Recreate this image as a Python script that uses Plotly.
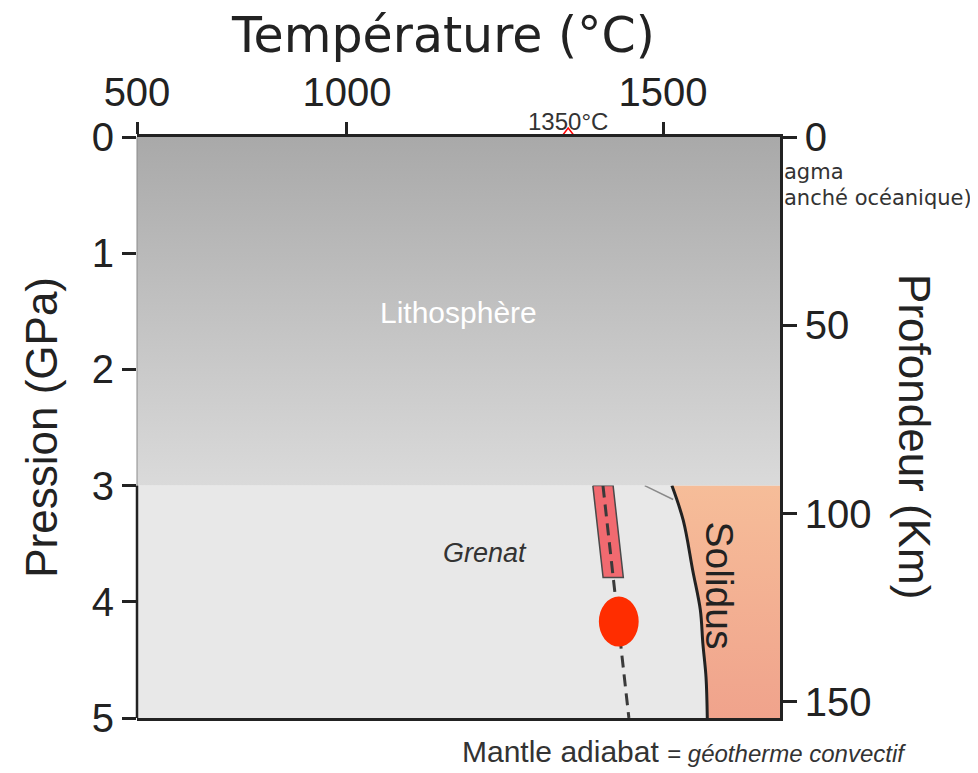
import plotly.graph_objects as go

# axes
temp_range = [668, 1685]          # linear part of the temperature axis (°C)
temp_tick_vals = [668, 1000, 1500]
temp_tick_text = ["500", "1000", "1500"]
pressure_range = [0, 5]           # GPa
pressure_ticks = [0, 1, 2, 3, 4, 5]
depth_max = 154.3                 # km at 5 GPa
depth_ticks = [0, 50, 100, 150]

# regions
litho_P = [0, 3]                  # lithosphere, GPa
solidus_T = [1514, 1532, 1547, 1559, 1563, 1568, 1570]
solidus_P = [3.0, 3.30, 3.73, 4.07, 4.36, 4.65, 5.0]

# mantle adiabat
adiabat_T = [1405, 1446]
adiabat_P = [3.0, 5.0]
bar_P = [3.0, 3.79]               # red segment along the adiabat
potential_T = [1350]              # 1350°C marker at the top
dot_T, dot_P = 1430, 4.17
leader_T = [1471, 1516]
leader_P = [3.0, 3.12]

FONT = "Liberation Sans, Arial, sans-serif"
WIDE = "DejaVu Sans, sans-serif"
DARK = "#222222"

t0, t1 = temp_range
fig = go.Figure()

# lower mantle background
fig.add_trace(go.Scatter(x=[t0, t1, t1, t0], y=[litho_P[1], litho_P[1], 5, 5], fill="toself",
                         fillcolor="#e8e8e8", line=dict(width=0), mode="lines",
                         hoverinfo="skip", showlegend=False))

# melt field right of the solidus
fig.add_trace(go.Scatter(x=solidus_T + [t1, t1], y=solidus_P + [5, 3], fill="toself",
                         fillgradient=dict(type="vertical", start=3, stop=5,
                                           colorscale=[[0, "#f6bd99"], [1, "#f0a38c"]]),
                         line=dict(width=0), mode="lines", hoverinfo="skip", showlegend=False))
fig.add_trace(go.Scatter(x=solidus_T, y=solidus_P, mode="lines", line=dict(color=DARK, width=3),
                         line_shape="spline", hoverinfo="skip", showlegend=False))

# red bar along the adiabat
slope = (adiabat_T[1] - adiabat_T[0]) / (adiabat_P[1] - adiabat_P[0])
bt = [adiabat_T[0] + slope * (p - adiabat_P[0]) for p in bar_P]
hw = 16
fig.add_trace(go.Scatter(x=[bt[0] - hw, bt[0] + hw, bt[1] + hw, bt[1] - hw, bt[0] - hw],
                         y=[bar_P[0], bar_P[0], bar_P[1], bar_P[1], bar_P[0]],
                         fill="toself", fillcolor="#f16a70", mode="lines",
                         line=dict(color="#4a4a4a", width=1.5), hoverinfo="skip", showlegend=False))

# adiabat dashed line
fig.add_trace(go.Scatter(x=adiabat_T, y=adiabat_P, mode="lines",
                         line=dict(color="#3a3a3a", width=3, dash="12px,7px"),
                         hoverinfo="skip", showlegend=False))

# leader line
fig.add_trace(go.Scatter(x=leader_T, y=leader_P, mode="lines", line=dict(color="#8a8a8a", width=1.5),
                         hoverinfo="skip", showlegend=False))

# 1350°C marker (partly hidden under lithosphere)
fig.add_trace(go.Scatter(x=potential_T, y=[0], mode="markers", cliponaxis=False,
                         marker=dict(symbol="triangle-up-open", size=18, color="red",
                                     line=dict(color="red", width=1.5)),
                         hoverinfo="skip", showlegend=False))

# lithosphere
fig.add_trace(go.Scatter(x=[t0, t1, t1, t0, t0], y=[litho_P[0], litho_P[0], litho_P[1], litho_P[1], litho_P[0]],
                         fill="toself", mode="lines", line=dict(width=0),
                         fillgradient=dict(type="vertical", start=0, stop=3,
                                           colorscale=[[0, "#a9a9a9"], [1, "#dadada"]]),
                         hoverinfo="skip", showlegend=False))

# depth axis carrier
fig.add_trace(go.Scatter(x=[t0] * len(depth_ticks), y=depth_ticks, yaxis="y2", mode="markers",
                         marker=dict(opacity=0), hoverinfo="skip", showlegend=False))

# red dot
fig.add_shape(type="circle", xref="x", yref="y", x0=dot_T - 31.5, x1=dot_T + 31.5,
              y0=dot_P - 0.215, y1=dot_P + 0.215, fillcolor="#ff2d00", line=dict(width=0))

# left axis line, only visible below the lithosphere
fig.add_shape(type="line", xref="paper", yref="y", x0=0, x1=0, y0=0, y1=3,
              line=dict(color="#8a8a8a", width=1))
fig.add_shape(type="line", xref="paper", yref="y", x0=0, x1=0, y0=3, y1=5,
              line=dict(color=DARK, width=2.5))

# page body has an 8px margin, so the figure is sized/margined to land on the same pixels
tick_font = dict(family=FONT, size=40, color=DARK)
fig.update_layout(
    width=970, height=765,
    margin=dict(l=129, r=198, t=129, b=55),
    paper_bgcolor="white", plot_bgcolor="white",
    font=dict(family=FONT, color=DARK),
    xaxis=dict(side="top", range=temp_range, tickvals=temp_tick_vals, ticktext=temp_tick_text,
               ticks="outside", ticklen=12, tickwidth=2.5, tickcolor=DARK,
               showline=True, linecolor=DARK, linewidth=2.5, mirror=True,
               showgrid=False, zeroline=False, tickfont=tick_font),
    yaxis=dict(range=[pressure_range[1], pressure_range[0]], tickvals=pressure_ticks,
               ticks="outside", ticklen=14, tickwidth=2.5, tickcolor=DARK, showline=False,
               showgrid=False, zeroline=False, tickfont=tick_font),
    yaxis2=dict(overlaying="y", side="right", range=[depth_max, 0], tickvals=depth_ticks,
                ticks="outside", ticklen=14, tickwidth=2.5, tickcolor=DARK,
                showline=True, linecolor=DARK, linewidth=2.5,
                showgrid=False, zeroline=False, tickfont=tick_font),
)

ann = [
    dict(text="Température (°C)", x=0.476, y=1.1755, xref="paper", yref="paper",
         font=dict(family=WIDE, size=49)),
    dict(text="Pression (GPa)", x=-0.148, y=0.501, xref="paper", yref="paper",
         textangle=-90, font=dict(size=44)),
    dict(text="Profondeur (Km)", x=1.208, y=0.484, xref="paper", yref="paper",
         textangle=90, font=dict(size=44)),
    dict(text="1350°C", x=1350, y=1.0275, xref="x", yref="paper", font=dict(size=24, color="#333")),
    dict(text="agma", x=1.003, y=0.94, xref="paper", yref="paper", xanchor="left",
         font=dict(family=WIDE, size=21, color="#333")),
    dict(text="anché océanique)", x=1.003, y=0.895, xref="paper", yref="paper", xanchor="left",
         font=dict(family=WIDE, size=21, color="#333")),
    dict(text="Lithosphère", x=1176, y=1.51, xref="x", yref="y", font=dict(size=30, color="white")),
    dict(text="<i>Grenat</i>", x=1218, y=3.58, xref="x", yref="y", font=dict(size=27, color="#333")),
    dict(text="Solidus", x=1590, y=3.86, xref="x", yref="y", textangle=90,
         font=dict(size=39, color=DARK)),
    dict(text="Mantle adiabat <span style='font-size:24px'>= <i>géotherme convectif</i></span>",
         x=0.502, y=-0.0585, xref="paper", yref="paper", xanchor="left",
         font=dict(size=30, color="#333")),
]
for a in ann:
    a.setdefault("showarrow", False)
    a.setdefault("xanchor", "center")
    a.setdefault("yanchor", "middle")
    fig.add_annotation(**a)

fig.write_html("out.html")
